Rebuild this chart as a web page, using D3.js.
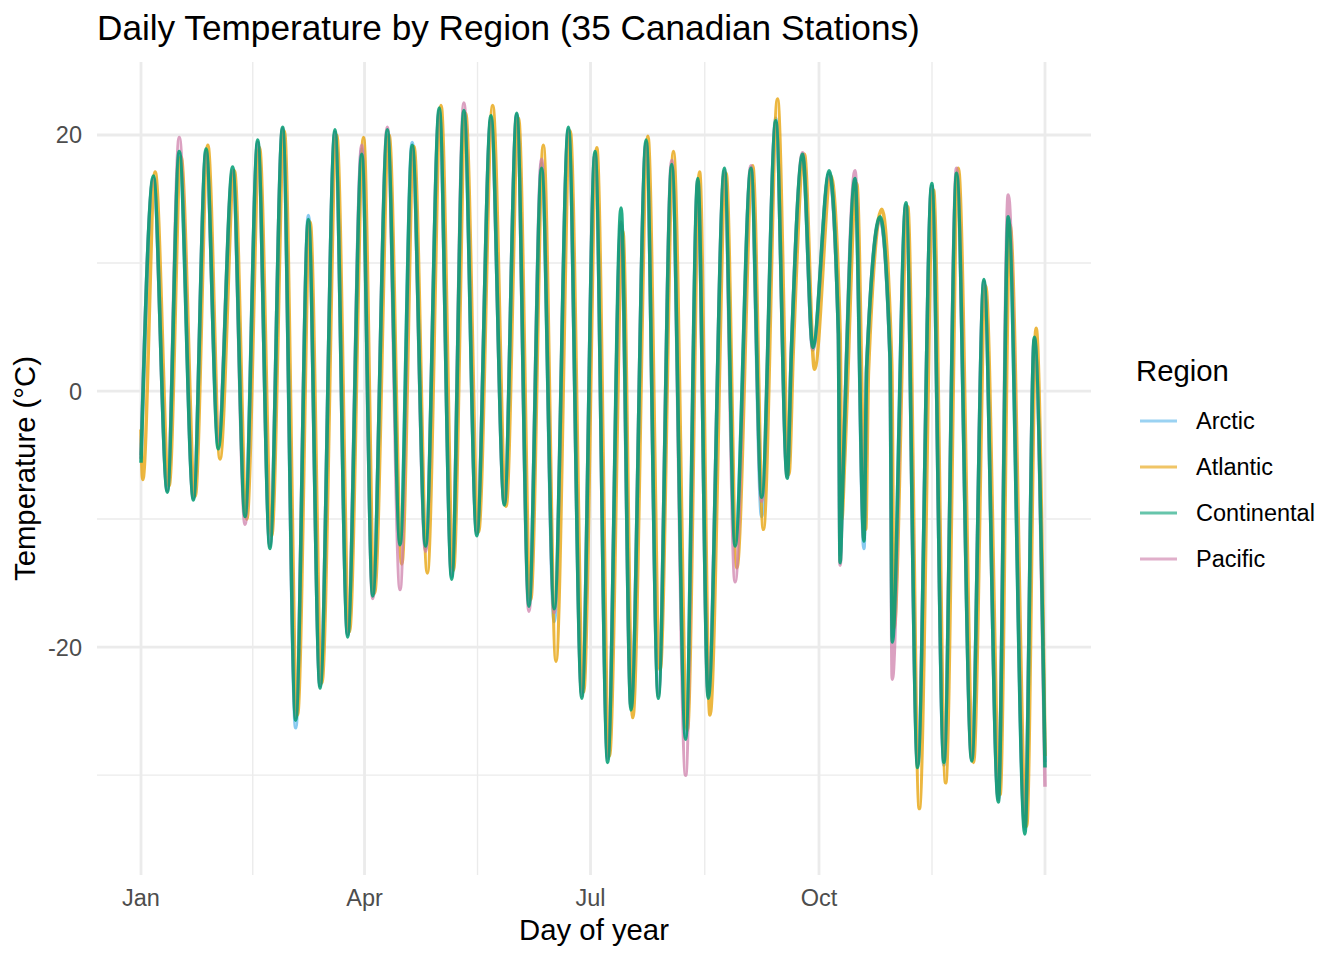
<!DOCTYPE html>
<html><head><meta charset="utf-8">
<script src="https://cdn.jsdelivr.net/npm/d3@7"></script>
<style>
body{margin:0;background:#fff}
svg{display:block}
text{font-family:"Liberation Sans",Arial,Helvetica,sans-serif}
</style>
</head><body>
<svg id="chart" width="1344" height="960"></svg>
<script>
// ---- data ----
const regions = ["Arctic", "Atlantic", "Continental", "Pacific"];
const regionColors = ["#56B4E9", "#E69F00", "#009E73", "#CC79A7"];

// key turning points (day of year) shared by Arctic, Continental, Pacific
const keyDays = [
  1, 6.0, 11.6, 16.4, 22.1, 27.2, 32.1, 37.9, 42.9, 48.0,
  52.9, 58.0, 63.3, 68.4, 73.1, 79.1, 84.2, 89.9, 94.3, 100.2,
  105.3, 110.2, 115.6, 121.1, 126.1, 131.0, 136.2, 141.9, 147.3, 152.3,
  157.2, 162.3, 167.4, 173.1, 178.5, 183.8, 188.9, 194.3, 198.3, 204.4,
  209.3, 214.7, 220.3, 225.2, 229.4, 235.9, 240.2, 246.6, 250.9, 256.6,
  261.2, 262.9, 267.4, 271.5, 278.1, 281.8, 282.5, 283.5, 288.5, 292.1,
  293.2, 298.6, 302.6, 303.5, 309.0, 313.7, 319.4, 324.3, 329.4, 335.5,
  340.4, 346.2, 350.2, 356.9, 360.7, 365
];
const atlanticDays = [
  1, 1.7, 6.7, 12.3, 17.1, 22.8, 27.9, 32.8, 38.6, 43.6, 48.7,
  53.6, 58.7, 64.0, 69.1, 73.8, 79.8, 84.9, 90.6, 95.0, 100.9,
  106.0, 110.9, 116.3, 121.8, 126.8, 131.7, 136.9, 142.6, 148.0, 153.0,
  157.9, 163.0, 168.1, 173.8, 179.2, 184.5, 189.6, 195.0, 199.0, 205.1,
  210.0, 215.4, 221.0, 225.9, 230.1, 236.6, 240.9, 247.3, 251.6, 257.3,
  261.9, 263.6, 268.1, 272.2, 278.8, 282.5, 283.2, 284.2, 289.2, 292.8,
  293.9, 299.3, 303.3, 304.2, 309.7, 314.4, 320.1, 325.0, 330.1, 336.2,
  341.1, 346.9, 350.9, 357.6, 361.4, 365
];

const arcticTemps = [
  -5.0, 16.6, -7.7, 18.5, -8.3, 18.7, -4.3, 17.0, -9.2, 19.4,
  -12.0, 20.4, -26.3, 13.7, -23.0, 20.2, -19.0, 18.9, -15.8, 20.0,
  -11.8, 19.4, -12.3, 21.8, -14.5, 21.6, -11.0, 21.2, -8.7, 21.5,
  -16.5, 17.8, -18.0, 20.4, -23.6, 18.5, -28.6, 13.0, -24.6, 19.3,
  -23.6, 17.5, -27.0, 16.2, -23.5, 17.0, -11.7, 17.2, -9.8, 21.3,
  -6.5, 3.3, 18.3, 3.2, 17.0, 4.6, -12.8, -7.2, 16.4, -12.3,
  1.8, 13.4, 2.5, -19.2, 14.5, -29.0, 16.0, -29.2, 16.8, -28.6,
  8.5, -31.8, 13.4, -34.2, 4.0, -29.0
];
const atlanticTemps = [
  -3.0, -6.9, 17.1, -7.4, 18.3, -8.2, 19.2, -5.3, 17.2, -10.0, 19.0,
  -11.3, 20.3, -25.3, 13.2, -22.8, 20.0, -18.8, 19.8, -15.8, 20.0,
  -13.5, 19.1, -14.2, 22.3, -14.0, 21.7, -11.0, 22.3, -9.0, 21.3,
  -16.3, 19.2, -21.1, 20.3, -23.5, 19.0, -28.5, 12.5, -25.5, 19.9,
  -21.8, 18.7, -26.5, 17.1, -25.3, 17.0, -13.8, 17.6, -10.8, 22.8,
  -6.5, 3.0, 18.5, 1.7, 16.8, 4.5, -10.0, -6.0, 16.2, -10.8,
  1.5, 14.2, 2.0, -18.5, 14.4, -32.6, 15.7, -30.6, 17.4, -29.0,
  8.2, -31.5, 13.0, -34.0, 4.9, -28.5
];
const continentalTemps = [
  -5.6, 16.8, -7.9, 18.7, -8.5, 18.9, -4.5, 17.5, -9.8, 19.6,
  -12.3, 20.6, -25.7, 13.4, -23.2, 20.4, -19.2, 18.5, -16.0, 20.4,
  -12.0, 19.2, -12.1, 22.1, -14.7, 21.9, -11.3, 21.5, -8.9, 21.7,
  -16.8, 17.4, -17.0, 20.6, -24.0, 18.7, -29.0, 14.3, -24.9, 19.6,
  -24.0, 17.7, -27.2, 16.6, -24.0, 17.4, -12.1, 17.4, -8.3, 21.1,
  -6.8, 3.2, 18.5, 3.4, 17.2, 4.5, -13.4, -7.5, 16.6, -11.7,
  1.9, 13.6, 2.6, -19.6, 14.7, -29.4, 16.2, -29.0, 17.0, -28.9,
  8.7, -32.1, 13.6, -34.6, 4.2, -29.4
];
const pacificTemps = [
  -5.3, 16.6, -7.8, 19.8, -8.4, 18.6, -3.9, 17.2, -10.4, 19.4,
  -12.1, 20.5, -25.5, 13.3, -23.0, 20.2, -19.0, 19.2, -16.2, 20.6,
  -15.5, 19.0, -12.5, 21.9, -14.4, 22.5, -11.1, 21.3, -8.8, 21.6,
  -17.2, 18.1, -17.3, 20.4, -23.8, 18.5, -28.7, 13.2, -24.7, 19.4,
  -23.8, 18.0, -30.0, 16.4, -23.8, 17.2, -14.9, 17.6, -8.6, 21.0,
  -6.7, 3.1, 18.6, 3.3, 17.0, 4.4, -13.6, -7.4, 17.2, -11.6,
  1.9, 13.5, 2.5, -22.5, 14.5, -29.2, 16.0, -28.8, 17.4, -28.8,
  8.6, -31.9, 15.3, -34.0, 4.1, -30.9
];

const xTickDays = [1, 91, 182, 274, 365];
const xTickLabels = ["Jan", "Apr", "Jul", "Oct", ""];
const yTicks = [-20, 0, 20];
const yMinorTicks = [-30, -10, 10];

// ---- layout ----
const svg = d3.select("#chart");
const panel = {left: 97, right: 1091, top: 62, bottom: 875};

const x = d3.scaleLinear().domain([1, 365]).range([141, 1045]);
const y = d3.scaleLinear().domain([-37.8, 25.7]).range([panel.bottom, panel.top]);

const grid = svg.append("g");
const xMinor = xTickDays.slice(0, -1).map((d, i) => (d + xTickDays[i + 1]) / 2);

grid.selectAll(".ym").data(yMinorTicks).join("line")
  .attr("x1", panel.left).attr("x2", panel.right)
  .attr("y1", d => y(d)).attr("y2", d => y(d))
  .attr("stroke", "#EBEBEB").attr("stroke-width", 1.4);
grid.selectAll(".xm").data(xMinor).join("line")
  .attr("y1", panel.top).attr("y2", panel.bottom)
  .attr("x1", d => x(d)).attr("x2", d => x(d))
  .attr("stroke", "#EBEBEB").attr("stroke-width", 1.4);
grid.selectAll(".yM").data(yTicks).join("line")
  .attr("x1", panel.left).attr("x2", panel.right)
  .attr("y1", d => y(d)).attr("y2", d => y(d))
  .attr("stroke", "#EBEBEB").attr("stroke-width", 2.8);
grid.selectAll(".xM").data(xTickDays).join("line")
  .attr("y1", panel.top).attr("y2", panel.bottom)
  .attr("x1", d => x(d)).attr("x2", d => x(d))
  .attr("stroke", "#EBEBEB").attr("stroke-width", 2.8);

// ---- series ----
const seriesData = {
  Arctic: keyDays.map((d, i) => [d, arcticTemps[i]]),
  Atlantic: atlanticDays.map((d, i) => [d, atlanticTemps[i]]),
  Continental: keyDays.map((d, i) => [d, continentalTemps[i]]),
  Pacific: keyDays.map((d, i) => [d, pacificTemps[i]])
};
const color = d3.scaleOrdinal().domain(regions).range(regionColors);
const line = d3.line().x(d => x(d[0])).y(d => y(d[1])).curve(d3.curveMonotoneX);

const drawOrder = ["Arctic", "Atlantic", "Pacific", "Continental"];
const opacity = {Arctic: 0.7, Atlantic: 0.75, Pacific: 0.7, Continental: 0.85};
svg.append("g").selectAll("path").data(drawOrder).join("path")
  .attr("d", r => line(seriesData[r]))
  .attr("fill", "none")
  .attr("stroke", r => color(r))
  .attr("stroke-opacity", r => opacity[r])
  .attr("stroke-width", 3.6)
  .attr("stroke-linejoin", "round");

// ---- axes text ----
svg.append("g").selectAll("text").data(yTicks).join("text")
  .attr("x", 82).attr("y", d => y(d)).attr("dy", "0.36em")
  .attr("text-anchor", "end").attr("font-size", 23.5).attr("fill", "#4D4D4D")
  .text(d => d);
svg.append("g").selectAll("text").data(xTickDays).join("text")
  .attr("x", d => x(d)).attr("y", 906)
  .attr("text-anchor", "middle").attr("font-size", 23.5).attr("fill", "#4D4D4D")
  .text((d, i) => xTickLabels[i]);

svg.append("text").attr("x", (panel.left + panel.right) / 2).attr("y", 940)
  .attr("text-anchor", "middle").attr("font-size", 29.3).attr("fill", "#000")
  .text("Day of year");
svg.append("text")
  .attr("transform", `translate(35,${(panel.top + panel.bottom) / 2}) rotate(-90)`)
  .attr("text-anchor", "middle").attr("font-size", 29.3).attr("fill", "#000")
  .text("Temperature (°C)");
svg.append("text").attr("x", 97).attr("y", 40)
  .attr("font-size", 35.2).attr("fill", "#000")
  .text("Daily Temperature by Region (35 Canadian Stations)");

// ---- legend ----
const legend = svg.append("g");
legend.append("text").attr("x", 1136).attr("y", 381)
  .attr("font-size", 29.3).attr("fill", "#000").text("Region");
const items = legend.selectAll("g.item").data(regions).join("g")
  .attr("transform", (d, i) => `translate(0,${421 + i * 46})`);
items.append("line").attr("x1", 1140).attr("x2", 1177).attr("y1", 0).attr("y2", 0)
  .attr("stroke", d => color(d)).attr("stroke-opacity", 0.6).attr("stroke-width", 3.2);
items.append("text").attr("x", 1196).attr("y", 0).attr("dy", "0.36em")
  .attr("font-size", 23.5).attr("fill", "#000").text(d => d);
</script>
</body></html>
